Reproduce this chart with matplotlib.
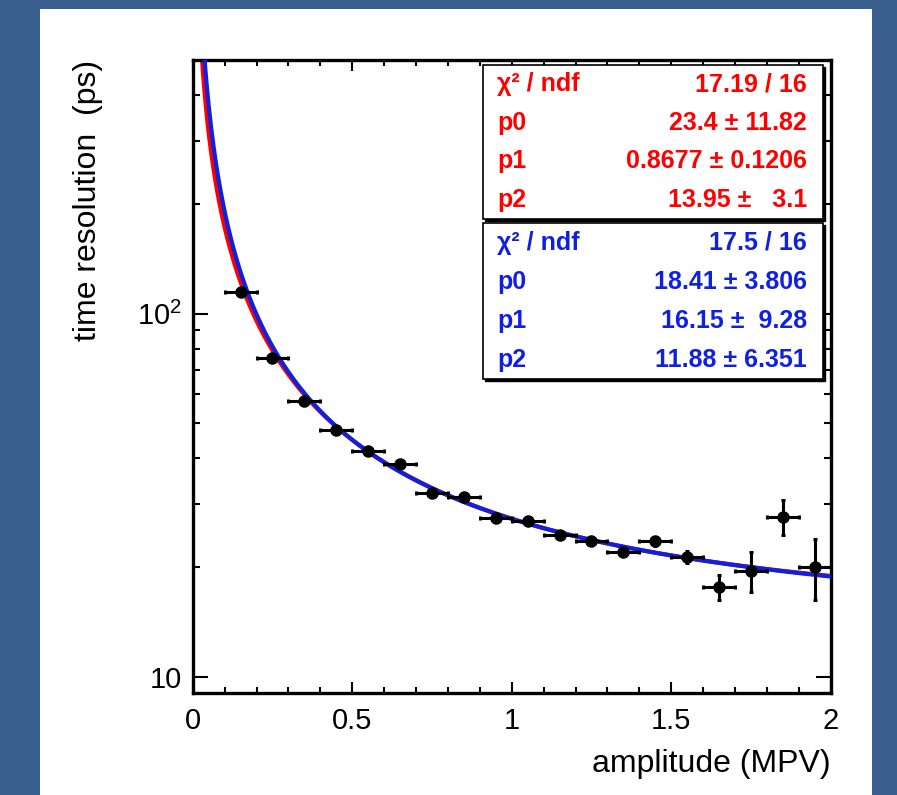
import numpy as np
import matplotlib
matplotlib.use("Agg")
import matplotlib.pyplot as plt
from matplotlib.patches import Rectangle
from matplotlib.ticker import FixedLocator, MultipleLocator, NullFormatter

plt.rcParams['font.family'] = ['Liberation Sans', 'DejaVu Sans']
plt.rcParams['mathtext.fontset'] = 'custom'
plt.rcParams['mathtext.rm'] = 'Liberation Sans'
plt.rcParams['mathtext.it'] = 'Liberation Sans:italic'
plt.rcParams['mathtext.bf'] = 'Liberation Sans:bold'

# Measured points (bin centres in MPV, resolution in ps)
amplitude = [0.15, 0.25, 0.35, 0.45, 0.55, 0.65, 0.75, 0.85, 0.95, 1.05,
             1.15, 1.25, 1.35, 1.45, 1.55, 1.65, 1.75, 1.85, 1.95]
amp_err = [0.05] * 19
resolution = [114.6, 75.5, 57.6, 47.8, 41.9, 38.5, 32.1, 31.2, 27.3, 26.9,
              24.5, 23.7, 22.1, 23.6, 21.4, 17.7, 19.6, 27.6, 20.1]
res_err = [3.0, 1.5, 1.0, 0.9, 0.7, 0.7, 0.6, 0.6, 0.5, 0.5,
           0.5, 0.5, 0.5, 0.7, 0.8, 1.4, 2.5, 3.0, 3.8]

# Fit results shown in the stat boxes
red_pars = [23.4, 0.8677, 13.95]
blue_pars = [18.41, 16.15, 11.88]
stat_names = ["χ² / ndf", "p0", "p1", "p2"]
red_values = ["17.19 / 16", "23.4 ± 11.82", "0.8677 ± 0.1206", "13.95 ±   3.1"]
blue_values = ["17.5 / 16", "18.41 ± 3.806", "16.15 ±  9.28", "11.88 ± 6.351"]

RED = "#ff0000"
BLUE = "#1020e0"

W, H = 897, 795
fig = plt.figure(figsize=(W / 100, H / 100), dpi=100)
fig.patch.set_facecolor("#3a5e8d")

def fx(px):
    return px / W

def fy(py):
    return 1 - py / H

# white slide panel
fig.patches.append(Rectangle((fx(40), 0), fx(872) - fx(40), fy(9), transform=fig.transFigure,
                             facecolor="white", edgecolor="none", zorder=-5))

ax = fig.add_axes([fx(192.7), fy(693.3), fx(830.7) - fx(192.7), fy(60) - fy(693.3)])
ax.set_zorder(1)
ax.set_facecolor("white")

# fit curves
xx = np.linspace(0.005, 2.0, 800)
red_curve = np.sqrt((red_pars[0] / xx ** red_pars[1]) ** 2 + red_pars[2] ** 2)
blue_curve = np.sqrt((blue_pars[0] / xx) ** 2 + (blue_pars[1] / np.sqrt(xx)) ** 2 + blue_pars[2] ** 2)
ax.plot(xx, red_curve, color=RED, lw=3, zorder=2)
ax.plot(xx, blue_curve, color=BLUE, lw=3, zorder=3)

ax.errorbar(amplitude, resolution, xerr=amp_err, yerr=res_err, fmt="o", color="black",
            ms=8, elinewidth=2.2, capsize=1.5, capthick=2.2, zorder=4)

ax.set_yscale("log")
ax.set_xlim(0, 2)
ax.set_ylim(9.0, 500)

ax.yaxis.set_major_locator(FixedLocator([10, 100]))
ax.set_yticklabels(["10", r"$10^{2}$"])
ax.yaxis.set_minor_locator(FixedLocator([9, 20, 30, 40, 50, 60, 70, 80, 90, 200, 300, 400]))
ax.yaxis.set_minor_formatter(NullFormatter())
ax.xaxis.set_minor_locator(MultipleLocator(0.1))
ax.set_xticks([0, 0.5, 1, 1.5, 2])
ax.set_xticklabels(["0", "0.5", "1", "1.5", "2"])

ax.tick_params(which="both", direction="in", top=True, right=True, labelsize=21, width=1.5)
ax.tick_params(axis="x", which="major", length=8, pad=10)
ax.tick_params(axis="x", which="minor", length=4)
ax.tick_params(axis="y", which="major", length=11, pad=8)
ax.tick_params(axis="y", which="minor", length=5)
for s in ax.spines.values():
    s.set_linewidth(2.4)

ax.set_xlabel("amplitude (MPV)", fontsize=23, loc="right", labelpad=10)
ax.set_ylabel("time resolution  (ps)", fontsize=23, loc="top", labelpad=24)

# stat boxes (drawn on top of the axes)
def stat_box(top, bottom, names, values, color):
    fig.patches.append(Rectangle((fx(484.5), fy(bottom + 2)), fx(825) - fx(484.5), fy(top + 2) - fy(bottom + 2),
                                 transform=fig.transFigure, facecolor="black", edgecolor="black", zorder=5))
    fig.patches.append(Rectangle((fx(482.7), fy(bottom)), fx(823.3) - fx(482.7), fy(top) - fy(bottom),
                                 transform=fig.transFigure, facecolor="white", edgecolor="black",
                                 lw=1.2, zorder=6))
    row_h = (bottom - top) / 4
    for i, (n, v) in enumerate(zip(names, values)):
        yc = top + row_h * (i + 0.5)
        fig.text(fx(497), fy(yc), n, color=color, fontsize=18, fontweight="bold",
                 ha="left", va="center", zorder=7)
        fig.text(fx(807), fy(yc), v, color=color, fontsize=18, fontweight="bold",
                 ha="right", va="center", zorder=7)

stat_box(65, 219.3, stat_names, red_values, RED)
stat_box(223.3, 379.3, stat_names, blue_values, BLUE)

fig.savefig("out.png", dpi=100, facecolor=fig.get_facecolor())
